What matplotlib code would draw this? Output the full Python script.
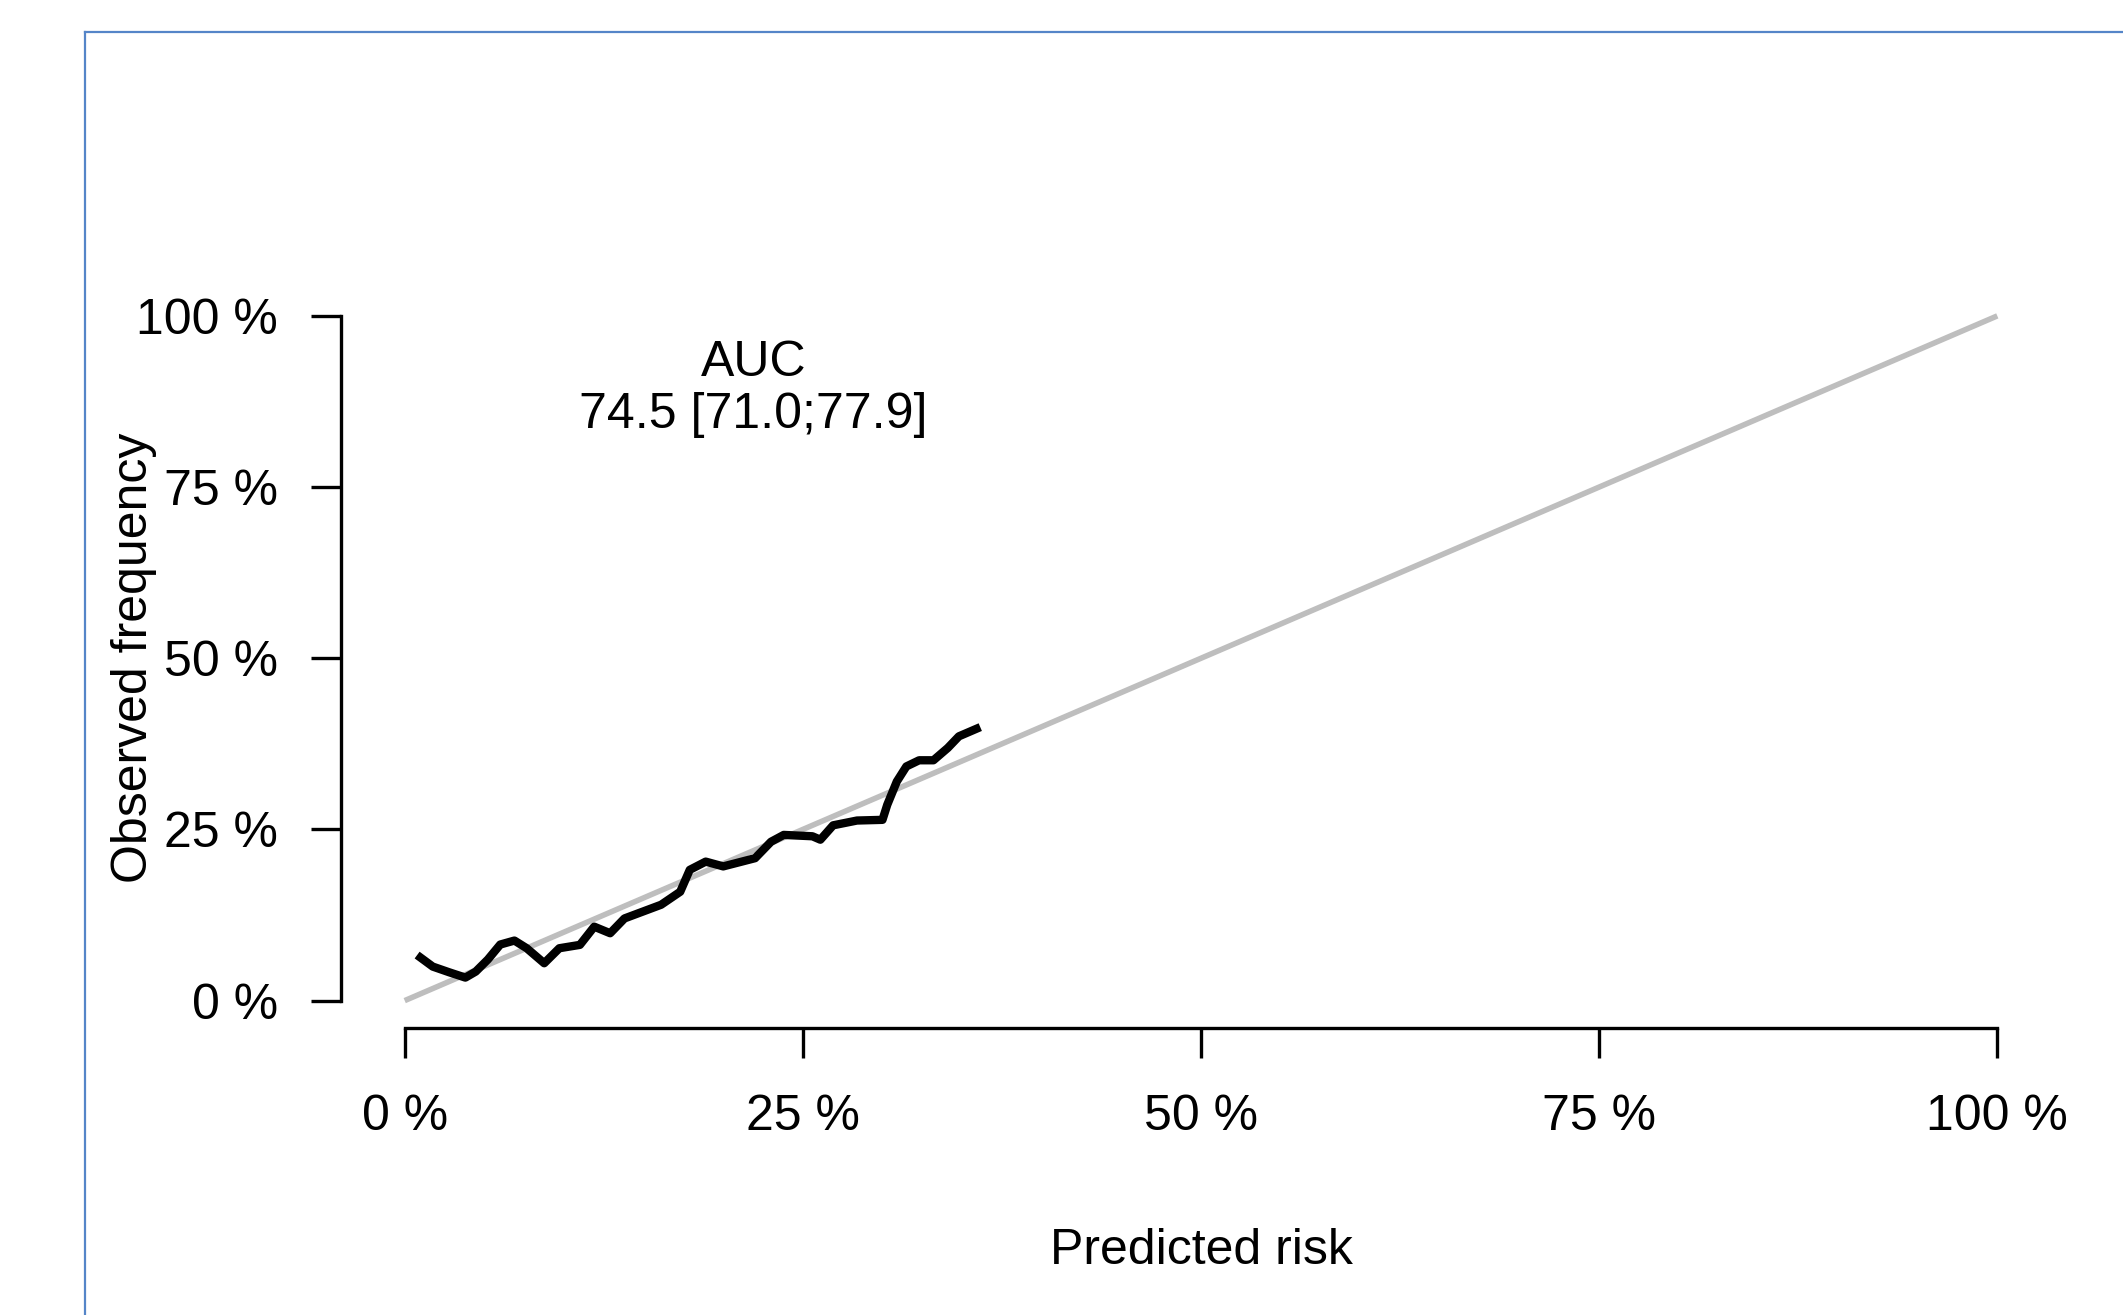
import numpy as np
import matplotlib
matplotlib.use("Agg")
import matplotlib.pyplot as plt
from matplotlib.lines import Line2D

plt.rcParams['font.family'] = ['Liberation Sans', 'DejaVu Sans']

# calibration curve (predicted risk, observed frequency)
pred = [0.0099, 0.0176, 0.0279, 0.0381, 0.0446, 0.0522, 0.060, 0.0689, 0.0766, 0.0876,
        0.0971, 0.110, 0.119, 0.129, 0.138, 0.161, 0.173, 0.179, 0.189, 0.200,
        0.220, 0.230, 0.238, 0.256, 0.261, 0.269, 0.284, 0.300, 0.303, 0.309,
        0.315, 0.323, 0.332, 0.341, 0.348, 0.359]
obs = [0.0629, 0.0497, 0.0414, 0.0336, 0.0424, 0.060, 0.0819, 0.0877, 0.0765, 0.0546,
       0.0765, 0.0814, 0.108, 0.0984, 0.120, 0.140, 0.159, 0.191, 0.203, 0.196,
       0.208, 0.232, 0.242, 0.240, 0.235, 0.256, 0.263, 0.264, 0.286, 0.320,
       0.342, 0.351, 0.351, 0.369, 0.386, 0.397]
ref_line = [0, 1]
ticks = [0, 0.25, 0.5, 0.75, 1]
tick_labels = ["0 %", "25 %", "50 %", "75 %", "100 %"]
auc_text = "AUC\n74.5 [71.0;77.9]"

W, H = 2123, 1315
fig = plt.figure(figsize=(W / 100, H / 100), dpi=100)
fig.patch.set_facecolor("white")

# blue frame from the pasted document
fig.add_artist(Line2D([85 / W, 85 / W], [0, 1 - 32 / H], color="#5585C8", lw=1.6))
fig.add_artist(Line2D([85 / W, 1], [1 - 32 / H, 1 - 32 / H], color="#5585C8", lw=1.6))

ax = fig.add_axes([341 / W, 1 - 1028 / H, 1720 / W, 739.5 / H])
ax.plot(ref_line, ref_line, color="#BEBEBE", lw=4, solid_capstyle="butt")
ax.plot(pred, obs, color="black", lw=6, solid_joinstyle="round")

ax.set_xlim(-0.04, 1.04)
ax.set_ylim(-0.04, 1.04)
for s in ["top", "right"]:
    ax.spines[s].set_visible(False)
for s in ["left", "bottom"]:
    ax.spines[s].set_linewidth(2.4)
    ax.spines[s].set_bounds(0, 1)

ax.set_xticks(ticks)
ax.set_xticklabels(tick_labels)
ax.set_yticks(ticks)
ax.set_yticklabels(tick_labels)
ax.tick_params(axis="both", length=21.6, width=2.4, labelsize=36)
ax.tick_params(axis="x", pad=26)
ax.tick_params(axis="y", pad=24)

ax.set_xlabel("Predicted risk", fontsize=36, va="top")
ax.xaxis.set_label_coords(0.5, -0.27)
ax.set_ylabel("Observed frequency", fontsize=36)
ax.yaxis.set_label_coords(-0.107, 0.5)

ax.text(0.219, 0.893, auc_text, ha="center", va="center", fontsize=36, linespacing=1.15)

fig.savefig("out.png", dpi=100)
